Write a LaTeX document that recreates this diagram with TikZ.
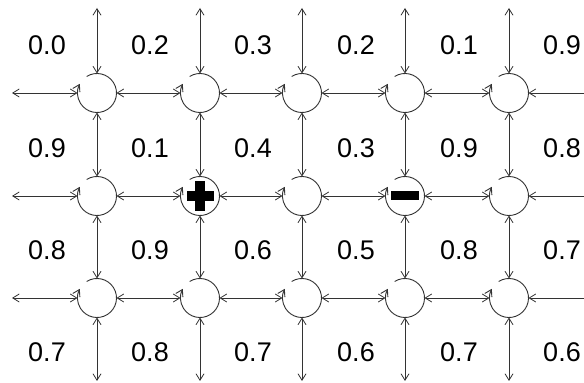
\documentclass[tikz,border=0pt]{standalone}
\usepackage{fontspec}
\setmainfont{Liberation Sans}
\usetikzlibrary{arrows.meta}
\tikzset{
  tip/.tip={Straight Barb[length=6.5pt,width=8pt]},
  cell/.style={circle, minimum size=39pt, inner sep=0pt, outer sep=0pt},
  link/.style={draw=black!80, line width=0.8pt, tip-tip},
  inlink/.style={draw=black!80, line width=0.8pt, tip-},
  selfloop/.style={draw=black!80, line width=0.9pt, -tip},
  val/.style={font=\fontsize{27}{30}\selectfont, inner sep=0pt},
}
\begin{document}
\begin{tikzpicture}[x=1pt,y=1pt]
\useasboundingbox (0,0) rectangle (584,383);
\clip (0,0) rectangle (584,383);
\fill[white] (0,0) rectangle (584,383);

% grid of states
\foreach \c/\x in {0/97,1/200,2/302,3/405,4/509}
  \foreach \r/\y in {0/290,1/187,2/85}
    \node[cell] (n\c\r) at (\x,\y) {};

% self transitions
\foreach \c in {0,...,4}
  \foreach \r in {0,1,2}
    \draw[selfloop] (n\c\r.122) arc[start angle=122, end angle=-208, radius=19.5pt];

% links between neighbouring states
\foreach \c/\d in {0/1,1/2,2/3,3/4}
  \foreach \r in {0,1,2}
    \draw[link] (n\c\r) -- (n\d\r);
\foreach \c in {0,...,4}
  \foreach \r/\q in {0/1,1/2}
    \draw[link] (n\c\r) -- (n\c\q);

% links leaving the grid
\foreach \c/\x in {0/97,1/200,2/302,3/405,4/509} {
  \coordinate (t\c) at (\x,375);
  \coordinate (b\c) at (\x,2);
  \draw[link] (n\c0) -- (t\c);
  \draw[link] (n\c2) -- (b\c);
}
\foreach \r/\y in {0/290,1/187,2/85} {
  \coordinate (l\r) at (12,\y);
  \coordinate (r\r) at (590,\y);
  \draw[link] (n0\r) -- (l\r);
  \draw[inlink] (n4\r) -- (r\r);
}

% reward marks
\fill ([shift={(-13.5,-5)}]n11.center) rectangle ++(27,10);
\fill ([shift={(-5,-15)}]n11.center) rectangle ++(10,30);
\fill ([shift={(-14,-4.5)}]n31.center) rectangle ++(28,9);

% cell values
\foreach \r/\y/\vals in {0/338/{0.0,0.2,0.3,0.2,0.1,0.9},
                         1/235/{0.9,0.1,0.4,0.3,0.9,0.8},
                         2/133/{0.8,0.9,0.6,0.5,0.8,0.7},
                         3/31/{0.7,0.8,0.7,0.6,0.7,0.6}}
  \foreach \v [count=\k from 0] in \vals
    \node[val] (v\k\r) at (47+103*\k,\y) {\v};
\end{tikzpicture}
\end{document}
